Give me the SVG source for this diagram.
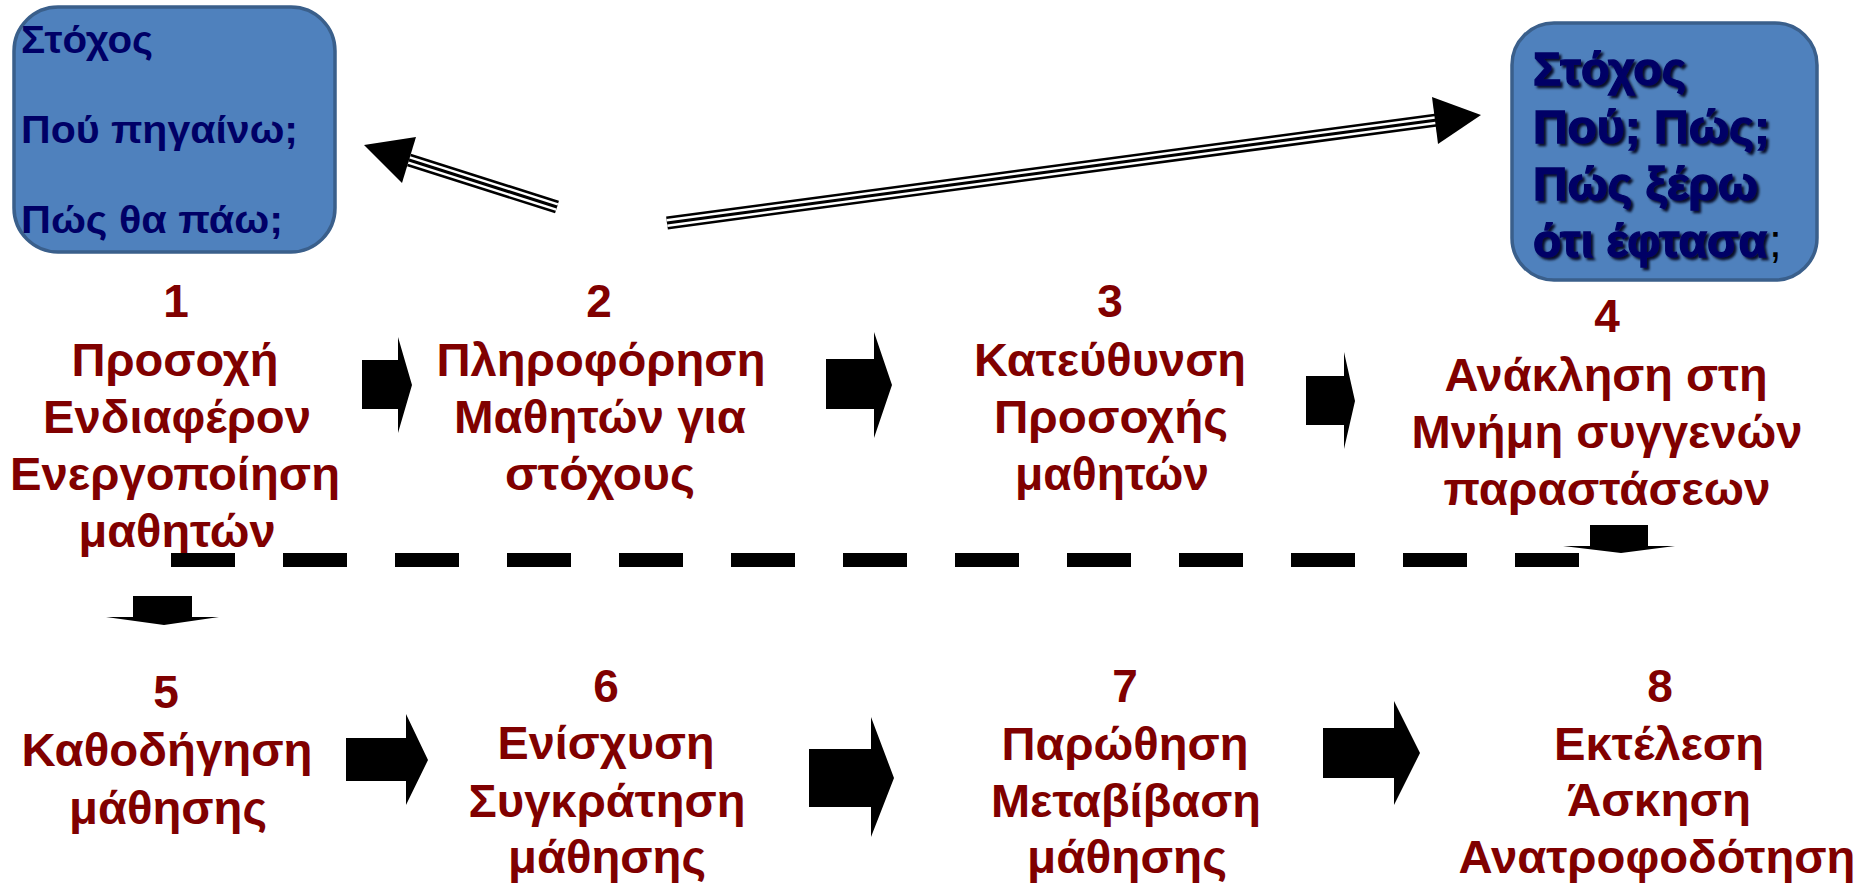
<svg xmlns="http://www.w3.org/2000/svg" width="1868" height="885" viewBox="0 0 1868 885">
<defs>
<filter id="sh" x="-10%" y="-10%" width="130%" height="130%">
<feDropShadow dx="2.5" dy="2.5" stdDeviation="1.2" flood-color="#000018" flood-opacity="0.9"/>
</filter>
</defs>
<style>
.box{fill:#4F81BD;stroke:#3A5F8B;stroke-width:3.5}
.bt{font-family:"Liberation Sans",Arial,sans-serif;font-weight:bold;fill:#000066}
.bt2{font-family:"Liberation Sans",Arial,sans-serif;font-weight:bold;fill:#000066;stroke:#000066;stroke-width:1.3;font-size:46px}
.t{font-family:"Liberation Sans",Arial,sans-serif;font-weight:bold;fill:#800000;font-size:47px;text-anchor:middle}
.n{font-size:46px}
.blk{fill:#000}
.s1{stroke:#000;stroke-width:13;fill:none}
.s2{stroke:#fff;stroke-width:8;fill:none}
.s3{stroke:#000;stroke-width:3;fill:none}
</style>
<rect width="1868" height="885" fill="#fff"/>

<g id="goal-left">
<rect class="box" x="14" y="7" width="321" height="245" rx="44"/>
<text class="bt" font-size="38" x="21" y="53" textLength="132" lengthAdjust="spacingAndGlyphs">Στόχος</text>
<text class="bt" font-size="38" x="21" y="143" textLength="277" lengthAdjust="spacingAndGlyphs">Πού πηγαίνω;</text>
<text class="bt" font-size="38" x="21" y="233" textLength="262" lengthAdjust="spacingAndGlyphs">Πώς θα πάω;</text>
</g>

<g id="goal-right">
<rect class="box" x="1512" y="23" width="305" height="257" rx="42"/>
<g filter="url(#sh)">
<text class="bt2" x="1533" y="85" textLength="153" lengthAdjust="spacingAndGlyphs">Στόχος</text>
<text class="bt2" x="1533" y="143" textLength="237" lengthAdjust="spacingAndGlyphs">Πού; Πώς;</text>
<text class="bt2" x="1533" y="200" textLength="225" lengthAdjust="spacingAndGlyphs">Πώς ξέρω</text>
<text class="bt2" x="1533" y="257" textLength="234" lengthAdjust="spacingAndGlyphs">ότι έφτασα</text>
</g>
<text x="1769" y="257" font-family="'Liberation Sans',Arial,sans-serif" font-size="46" fill="#000">;</text>
</g>

<g id="step1">
<text class="t n" x="176" y="317">1</text>
<text class="t" x="175" y="376" textLength="207" lengthAdjust="spacingAndGlyphs">Προσοχή</text>
<text class="t" x="177" y="433" textLength="268" lengthAdjust="spacingAndGlyphs">Ενδιαφέρον</text>
<text class="t" x="175" y="490" textLength="330" lengthAdjust="spacingAndGlyphs">Ενεργοποίηση</text>
<text class="t" x="177" y="547" textLength="197" lengthAdjust="spacingAndGlyphs">μαθητών</text>
</g>
<g id="step2">
<text class="t n" x="599" y="317">2</text>
<text class="t" x="601" y="376" textLength="329" lengthAdjust="spacingAndGlyphs">Πληροφόρηση</text>
<text class="t" x="600" y="433" textLength="292" lengthAdjust="spacingAndGlyphs">Μαθητών για</text>
<text class="t" x="600" y="490" textLength="190" lengthAdjust="spacingAndGlyphs">στόχους</text>
</g>
<g id="step3">
<text class="t n" x="1110" y="317">3</text>
<text class="t" x="1110" y="376" textLength="272" lengthAdjust="spacingAndGlyphs">Κατεύθυνση</text>
<text class="t" x="1111" y="433" textLength="234" lengthAdjust="spacingAndGlyphs">Προσοχής</text>
<text class="t" x="1112" y="490" textLength="194" lengthAdjust="spacingAndGlyphs">μαθητών</text>
</g>
<g id="step4">
<text class="t n" x="1607" y="332">4</text>
<text class="t" x="1606" y="391" textLength="323" lengthAdjust="spacingAndGlyphs">Ανάκληση στη</text>
<text class="t" x="1607" y="448" textLength="391" lengthAdjust="spacingAndGlyphs">Μνήμη συγγενών</text>
<text class="t" x="1607" y="505" textLength="327" lengthAdjust="spacingAndGlyphs">παραστάσεων</text>
</g>
<g id="step5">
<text class="t n" x="166" y="708">5</text>
<text class="t" x="167" y="766" textLength="291" lengthAdjust="spacingAndGlyphs">Καθοδήγηση</text>
<text class="t" x="168" y="824" textLength="198" lengthAdjust="spacingAndGlyphs">μάθησης</text>
</g>
<g id="step6">
<text class="t n" x="606" y="702">6</text>
<text class="t" x="606" y="759" textLength="217" lengthAdjust="spacingAndGlyphs">Ενίσχυση</text>
<text class="t" x="607" y="817" textLength="277" lengthAdjust="spacingAndGlyphs">Συγκράτηση</text>
<text class="t" x="607" y="873" textLength="198" lengthAdjust="spacingAndGlyphs">μάθησης</text>
</g>
<g id="step7">
<text class="t n" x="1125" y="702">7</text>
<text class="t" x="1125" y="760" textLength="247" lengthAdjust="spacingAndGlyphs">Παρώθηση</text>
<text class="t" x="1126" y="817" textLength="270" lengthAdjust="spacingAndGlyphs">Μεταβίβαση</text>
<text class="t" x="1127" y="873" textLength="200" lengthAdjust="spacingAndGlyphs">μάθησης</text>
</g>
<g id="step8">
<text class="t n" x="1660" y="702">8</text>
<text class="t" x="1659" y="760" textLength="210" lengthAdjust="spacingAndGlyphs">Εκτέλεση</text>
<text class="t" x="1659" y="816" textLength="184" lengthAdjust="spacingAndGlyphs">Άσκηση</text>
<text class="t" x="1657" y="873" textLength="397" lengthAdjust="spacingAndGlyphs">Ανατροφοδότηση</text>
</g>

<g id="connectors">
<path class="s1" d="M557 207 L409 160"/>
<path class="s2" d="M557 207 L409 160"/>
<path class="s3" d="M557 207 L409 160"/>
<polygon class="blk" points="364,145 416,137 402,183"/>
<path class="s1" d="M667 223 L1437 120"/>
<path class="s2" d="M667 223 L1437 120"/>
<path class="s3" d="M667 223 L1437 120"/>
<polygon class="blk" points="1481,115 1432,97 1438,144"/>
<polygon class="blk" points="362,360 398,360 398,337 412,385 398,433 398,409 362,409"/>
<polygon class="blk" points="826,359 874,359 874,332 892,385 874,438 874,409 826,409"/>
<polygon class="blk" points="1306,376 1344,376 1344,352 1355,401 1344,449 1344,425 1306,425"/>
<polygon class="blk" points="1590,525 1648,525 1648,546 1675,546 1621,553 1563,546 1590,546"/>
<polygon class="blk" points="133,596 192,596 192,617 219,617 164,625 106,617 133,617"/>
<line x1="171" y1="560" x2="1579" y2="560" stroke="#000" stroke-width="14" stroke-dasharray="64 48"/>
<polygon class="blk" points="346,738 406,738 406,714 428,760 406,805 406,781 346,781"/>
<polygon class="blk" points="809,749 871,749 871,717 894,778 871,837 871,807 809,807"/>
<polygon class="blk" points="1323,728 1394,728 1394,701 1420,753 1394,805 1394,778 1323,778"/>
</g>
</svg>
